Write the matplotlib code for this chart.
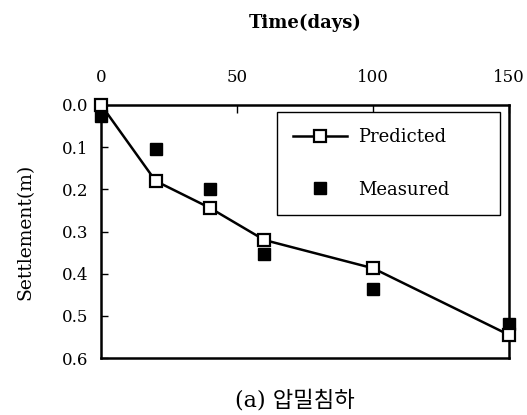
import matplotlib
matplotlib.use("Agg")
import matplotlib.pyplot as plt

# dados
dias_prev = [0, 20, 40, 60, 100, 150]
recalque_prev = [0.0, 0.18, 0.244, 0.32, 0.387, 0.545]
dias_med = [0, 20, 40, 60, 100, 150]
recalque_med = [0.025, 0.105, 0.20, 0.353, 0.436, 0.52]
ticks_x = [0, 50, 100, 150]
ticks_y = [0.0, 0.1, 0.2, 0.3, 0.4, 0.5, 0.6]

plt.rcParams['font.family'] = ['DejaVu Serif']

fig = plt.figure(figsize=(5.27, 4.15), dpi=100)
ax = fig.add_axes([0.192, 0.137, 0.774, 0.61])

ax.plot(dias_prev, recalque_prev, color='black', linewidth=1.8, marker='s',
        markersize=9, markerfacecolor='white', markeredgecolor='black',
        markeredgewidth=1.6, label='Predicted', clip_on=False, zorder=4)
ax.plot(dias_med, recalque_med, linestyle='none', marker='s', markersize=9,
        color='black', label='Measured', clip_on=False, zorder=3)

ax.set_xlim(0, 150)
ax.set_ylim(0.6, 0.0)
ax.set_xticks(ticks_x)
ax.set_yticks(ticks_y)
ax.set_yticklabels([f'{v:.1f}' for v in ticks_y])
ax.xaxis.tick_top()
ax.xaxis.set_label_position('top')
ax.tick_params(axis='x', direction='in', length=6, width=1, pad=14, labelsize=12)
ax.tick_params(axis='y', direction='in', length=5, width=1, pad=9, labelsize=12)

for s in ax.spines.values():
    s.set_linewidth(1.8)

ax.set_xlabel('Time(days)', fontsize=13, fontweight='bold', labelpad=29)
ax.set_ylabel('Settlement(m)', fontsize=13.5, labelpad=20)

leg = ax.legend(loc='upper left', bbox_to_anchor=(0.43, 0.54, 0.548, 0.432),
                mode='expand', borderaxespad=0, fontsize=13, labelspacing=1.9,
                borderpad=0.9, handlelength=3.0, handletextpad=0.6,
                fancybox=False, edgecolor='black', framealpha=1)
leg.get_frame().set_linewidth(1.0)

fig.text(0.56, 0.036, '(a) 압밀침하', ha='center', va='center', fontsize=16,
         family=['DejaVu Serif', 'Noto Sans CJK KR'])

plt.savefig('out.png', dpi=100)
